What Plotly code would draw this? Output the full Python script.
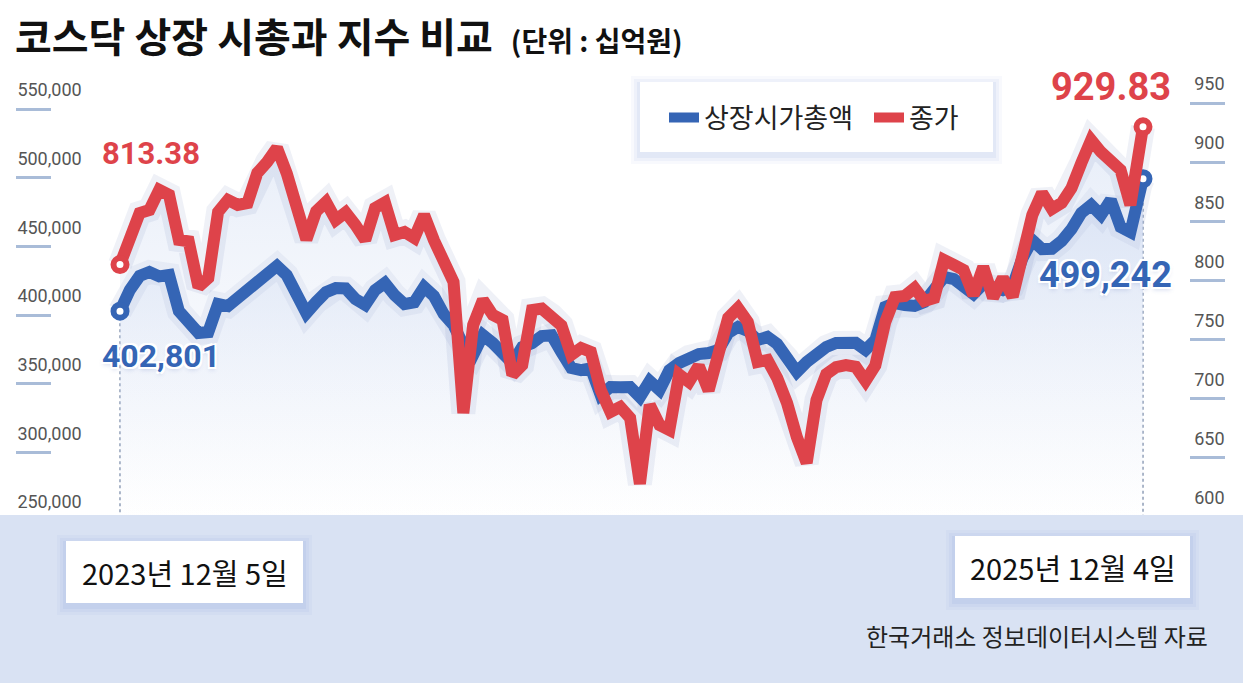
import pandas as pd
import plotly.graph_objects as go

# ---------------- data ----------------
dates = [
    "2023-12-05", "2023-12-12", "2023-12-19", "2023-12-26",
    "2024-01-02", "2024-01-09", "2024-01-16", "2024-01-23", "2024-01-30",
    "2024-02-06", "2024-02-13", "2024-02-20", "2024-02-27",
    "2024-03-05", "2024-03-12", "2024-03-19", "2024-03-26",
    "2024-04-02", "2024-04-09", "2024-04-16", "2024-04-23", "2024-04-30",
    "2024-05-07", "2024-05-14", "2024-05-21", "2024-05-28",
    "2024-06-04", "2024-06-11", "2024-06-18", "2024-06-25",
    "2024-07-02", "2024-07-09", "2024-07-16", "2024-07-23", "2024-07-30",
    "2024-08-06", "2024-08-13", "2024-08-20", "2024-08-27",
    "2024-09-03", "2024-09-10", "2024-09-17", "2024-09-24",
    "2024-10-01", "2024-10-08", "2024-10-15", "2024-10-22", "2024-10-29",
    "2024-11-05", "2024-11-12", "2024-11-19", "2024-11-26",
    "2024-12-03", "2024-12-10", "2024-12-17", "2024-12-24", "2024-12-31",
    "2025-01-07", "2025-01-14", "2025-01-21", "2025-01-28",
    "2025-02-04", "2025-02-11", "2025-02-18", "2025-02-25",
    "2025-03-04", "2025-03-11", "2025-03-18", "2025-03-25",
    "2025-04-01", "2025-04-08", "2025-04-15", "2025-04-22", "2025-04-29",
    "2025-05-06", "2025-05-13", "2025-05-20", "2025-05-27",
    "2025-06-03", "2025-06-10", "2025-06-17", "2025-06-24",
    "2025-07-01", "2025-07-08", "2025-07-15", "2025-07-22", "2025-07-29",
    "2025-08-05", "2025-08-12", "2025-08-19", "2025-08-26",
    "2025-09-02", "2025-09-09", "2025-09-16", "2025-09-23", "2025-09-30",
    "2025-10-07", "2025-10-14", "2025-10-21", "2025-10-28",
    "2025-11-04", "2025-11-11", "2025-11-18", "2025-11-25",
    "2025-12-02", "2025-12-04",
]

# 상장시가총액 (십억원)
market_cap = [
    402801, 418200, 428400, 431300,
    428100, 429100, 402900, 396300, 386900,
    387600, 408000, 406500, 412400,
    416000, 421800, 427700, 435700,
    429000, 414600, 401400, 409500, 416700,
    419600, 419300, 411600, 407300,
    418000, 423300, 414400, 407900,
    409300, 420400, 413800, 400700, 392700,
    378100, 370900, 385400, 379600,
    370700, 365000, 376700, 379500,
    384700, 385300, 373000, 361400, 359900,
    361200, 341700, 347600, 347400,
    347500, 340300, 351900, 345400, 359800,
    365100, 369400, 371600, 372300,
    374500, 386900, 391300, 388300,
    381800, 384000, 378900, 368700,
    358500, 365800, 372200, 376700, 379600,
    380300, 379700, 374600, 381700,
    405800, 408700, 407300, 406600,
    409500, 418200, 427700, 426200, 421800,
    415300, 422600, 419600, 418100,
    421100, 441500, 454600, 448000, 448200,
    453900, 462600, 474300, 480100,
    472800, 483700, 464100, 460400,
    494600, 499242,
]

# 코스닥 종가
close_idx = [
    813.38, 832.5, 857.0, 859.6,
    876.5, 872.3, 834.2, 833.0, 794.5,
    802.1, 857.9, 868.0, 863.8,
    865.5, 890.9, 900.2, 912.0,
    890.5, 857.6, 834.6, 858.4, 866.3,
    851.1, 857.5, 846.9, 834.2,
    861.3, 866.0, 838.4, 841.0,
    835.9, 855.3, 834.0, 815.6, 798.7,
    687.9, 762.3, 783.5, 770.8,
    766.6, 720.1, 728.5, 775.0,
    776.2, 770.5, 762.0, 737.0, 742.9,
    739.5, 707.4, 688.8, 693.0,
    683.7, 628.0, 694.7, 677.8, 673.6,
    720.4, 714.1, 727.7, 707.0,
    739.8, 768.3, 776.7, 764.9,
    731.1, 732.7, 717.5, 696.4,
    667.6, 645.7, 698.9, 720.9, 726.8,
    728.5, 727.0, 715.0, 728.2,
    764.6, 786.0, 786.9, 793.6,
    782.6, 785.2, 817.3, 813.1, 808.8,
    787.7, 811.4, 785.5, 802.1,
    786.3, 825.7, 855.3, 873.9, 860.4,
    865.5, 878.2, 899.3, 918.8,
    908.6, 901.8, 893.4, 863.8,
    923.0, 929.83,
]

series_names = ["상장시가총액", "종가"]
left_ticks = [250000, 300000, 350000, 400000, 450000, 500000, 550000]
left_ticktext = ["250,000", "300,000", "350,000", "400,000", "450,000", "500,000", "550,000"]
right_ticks = [600, 650, 700, 750, 800, 850, 900, 950]
right_ticktext = ["600", "650", "700", "750", "800", "850", "900", "950"]

title_main = "코스닥 상장 시총과 지수 비교"
title_unit = "(단위 : 십억원)"
start_label = "2023년 12월 5일"
end_label = "2025년 12월 4일"
source_text = "한국거래소 정보데이터시스템 자료"

# ---------------- styling / layout geometry ----------------
W, H = 1243, 686
PLOT_L, PLOT_R, PLOT_T, PLOT_B = 16, 1225, 50, 521
X0_PX, X1_PX = 120, 1143          # where first / last date sit
L_TICK_PX = (521, 109)            # pixel rows of first / last left tick
R_TICK_PX = (517, 103)            # pixel rows of first / last right tick

BLUE = "#3565b5"
RED = "#de434a"
KR = "Noto Sans CJK KR"
NUM = "Roboto"


def paper_x(px):
    return (px - PLOT_L) / (PLOT_R - PLOT_L)


def paper_y(py):
    return (PLOT_B - py) / (PLOT_B - PLOT_T)


d0, d1 = pd.Timestamp(dates[0]), pd.Timestamp(dates[-1])
per_px = (d1 - d0) / (X1_PX - X0_PX)
x_range = [(d0 - per_px * (X0_PX - PLOT_L)).strftime("%Y-%m-%d %H:%M:%S"),
           (d1 + per_px * (PLOT_R - X1_PX)).strftime("%Y-%m-%d %H:%M:%S")]

lv = (left_ticks[-1] - left_ticks[0]) / (L_TICK_PX[0] - L_TICK_PX[1])
y_range = [left_ticks[0] - lv * (PLOT_B - L_TICK_PX[0]),
           left_ticks[0] + lv * (L_TICK_PX[0] - PLOT_T)]
rv = (right_ticks[-1] - right_ticks[0]) / (R_TICK_PX[0] - R_TICK_PX[1])
y2_range = [right_ticks[0] - rv * (PLOT_B - R_TICK_PX[0]),
            right_ticks[0] + rv * (R_TICK_PX[0] - PLOT_T)]

fig = go.Figure()

# soft area fills under the lines
fig.add_trace(go.Scatter(
    x=dates, y=market_cap, yaxis="y", mode="none", fill="tozeroy",
    fillgradient=dict(type="vertical",
                      colorscale=[[0, "rgba(225,232,246,0.0)"], [1, "rgba(200,214,240,0.55)"]],
                      start=y_range[0], stop=max(market_cap)),
    showlegend=False, hoverinfo="skip"))
fig.add_trace(go.Scatter(
    x=dates, y=close_idx, yaxis="y2", mode="none", fill="tozeroy",
    fillgradient=dict(type="vertical",
                      colorscale=[[0, "rgba(225,232,246,0.0)"], [1, "rgba(200,214,240,0.45)"]],
                      start=y2_range[0], stop=max(close_idx)),
    showlegend=False, hoverinfo="skip"))

# faint glow (shadow) under the lines
fig.add_trace(go.Scatter(x=dates, y=market_cap, yaxis="y", mode="lines",
                         line=dict(color="rgba(80,100,170,0.09)", width=24),
                         showlegend=False, hoverinfo="skip"))
fig.add_trace(go.Scatter(x=dates, y=close_idx, yaxis="y2", mode="lines",
                         line=dict(color="rgba(80,100,170,0.09)", width=24),
                         showlegend=False, hoverinfo="skip"))

# main lines
fig.add_trace(go.Scatter(x=dates, y=market_cap, yaxis="y3", mode="lines",
                         name=series_names[0], line=dict(color=BLUE, width=12)))
fig.add_trace(go.Scatter(x=[dates[0], dates[-1]], y=[market_cap[0], market_cap[-1]],
                         yaxis="y3", mode="markers", showlegend=False, hoverinfo="skip",
                         marker=dict(size=13, color="white", line=dict(color=BLUE, width=6))))
fig.add_trace(go.Scatter(x=dates, y=close_idx, yaxis="y4", mode="lines",
                         name=series_names[1], line=dict(color=RED, width=12)))
fig.add_trace(go.Scatter(x=[dates[0], dates[-1]], y=[close_idx[0], close_idx[-1]],
                         yaxis="y4", mode="markers", showlegend=False, hoverinfo="skip",
                         marker=dict(size=13, color="white", line=dict(color=RED, width=6))))

# ---------------- shapes ----------------
shapes = []
# dotted drop lines
shapes.append(dict(type="line", xref="x", yref="y", x0=dates[0], x1=dates[0],
                   y0=market_cap[0], y1=y_range[0], layer="below",
                   line=dict(color="#8d9cb5", width=1.5, dash="dot")))
shapes.append(dict(type="line", xref="x", yref="y", x0=dates[-1], x1=dates[-1],
                   y0=market_cap[-1], y1=y_range[0], layer="below",
                   line=dict(color="#8d9cb5", width=1.5, dash="dot")))
# bottom band
shapes.append(dict(type="rect", xref="paper", yref="paper", layer="above",
                   x0=paper_x(0), x1=paper_x(W), y0=paper_y(683), y1=paper_y(515),
                   fillcolor="#d9e2f3", line=dict(width=0)))


def shadow_box(x0, y0, x1, y1):
    out = []
    for grow, alpha in ((9, 0.05), (6, 0.07), (3, 0.09)):
        out.append(dict(type="rect", xref="paper", yref="paper", layer="above",
                        x0=paper_x(x0 - grow), x1=paper_x(x1 + grow),
                        y0=paper_y(y1 + grow + 3), y1=paper_y(y0 - grow + 3),
                        fillcolor=f"rgba(110,140,215,{alpha})", line=dict(width=0)))
    out.append(dict(type="rect", xref="paper", yref="paper", layer="above",
                    x0=paper_x(x0), x1=paper_x(x1), y0=paper_y(y1), y1=paper_y(y0),
                    fillcolor="white", line=dict(width=0)))
    return out


shapes += shadow_box(640, 82, 993, 152)     # legend panel
shapes += shadow_box(66, 541, 303, 603)     # start date box
shapes += shadow_box(955, 536, 1190, 598)   # end date box

# ---------------- annotations ----------------
white_outline = ("2px 2px 0 #fff, -2px -2px 0 #fff, 2px -2px 0 #fff, -2px 2px 0 #fff, "
                 "0 3px 4px rgba(120,140,200,0.3)")
annotations = [
    dict(x=dates[0], y=close_idx[0], xref="x", yref="y4", text=f"{close_idx[0]:.2f}",
         showarrow=False, xanchor="left", yanchor="middle", xshift=-20, yshift=111,
         font=dict(family=NUM, size=31, color=RED, weight="bold")),
    dict(x=dates[0], y=market_cap[0], xref="x", yref="y3", text=f"{market_cap[0]:,}",
         showarrow=False, xanchor="left", yanchor="middle", xshift=-20, yshift=-45,
         font=dict(family=NUM, size=32, color=BLUE, weight="bold", shadow=white_outline)),
    dict(x=dates[-1], y=close_idx[-1], xref="x", yref="y4", text=f"{close_idx[-1]:.2f}",
         showarrow=False, xanchor="right", yanchor="middle", xshift=30, yshift=40,
         font=dict(family=NUM, size=38, color=RED, weight="bold")),
    dict(x=dates[-1], y=market_cap[-1], xref="x", yref="y3", text=f"{market_cap[-1]:,}",
         showarrow=False, xanchor="right", yanchor="middle", xshift=31, yshift=-96,
         font=dict(family=NUM, size=36, color=BLUE, weight="bold", shadow=white_outline)),
    dict(x=paper_x(184.5), y=paper_y(572), xref="paper", yref="paper", text=start_label,
         showarrow=False, xanchor="center", yanchor="middle",
         font=dict(family=KR, size=29, color="#111")),
    dict(x=paper_x(1072.5), y=paper_y(567), xref="paper", yref="paper", text=end_label,
         showarrow=False, xanchor="center", yanchor="middle",
         font=dict(family=KR, size=29, color="#111")),
    dict(x=paper_x(1210), y=paper_y(635), xref="paper", yref="paper", text=source_text,
         showarrow=False, xanchor="right", yanchor="middle",
         font=dict(family=KR, size=24, color="#222")),
]

axis_common = dict(showgrid=False, zeroline=False, showline=False, ticks="inside",
                   ticklen=35, tickwidth=2.5, tickcolor="#a9bcd8",
                   ticklabelposition="inside", ticklabelshift=-19,
                   tickfont=dict(family=NUM, size=18, color="#555"))

fig.update_layout(
    width=W, height=H,
    margin=dict(l=PLOT_L, r=W - PLOT_R, t=PLOT_T, b=H - PLOT_B, pad=0),
    paper_bgcolor="white", plot_bgcolor="white",
    title=dict(text=f"<b>{title_main}</b>  <span style='font-size:28px'><b>{title_unit}</b></span>",
               x=15 / W, xref="container", xanchor="left",
               y=1 - 38 / H, yref="container", yanchor="middle",
               font=dict(family=KR, size=40, color="#111")),
    xaxis=dict(range=x_range, visible=False, showgrid=False),
    yaxis=dict(range=y_range, tickvals=left_ticks, ticktext=left_ticktext,
               side="left", ticklabelstandoff=-33, **axis_common),
    yaxis2=dict(range=y2_range, tickvals=right_ticks, ticktext=right_ticktext,
                side="right", overlaying="y", ticklabelstandoff=-34, **axis_common),
    yaxis3=dict(range=y_range, overlaying="y", visible=False),
    yaxis4=dict(range=y2_range, overlaying="y", visible=False),
    legend=dict(orientation="h", x=paper_x(664), y=paper_y(118), xanchor="left",
                yanchor="middle", bgcolor="rgba(0,0,0,0)", itemwidth=30,
                entrywidth=160, entrywidthmode="pixels",
                traceorder="normal", font=dict(family=KR, size=27, color="#222")),
    shapes=shapes,
    annotations=annotations,
    hovermode=False,
)

fig.write_html("out.html", config={"displayModeBar": False},
               post_script="document.body.style.margin='0';")
